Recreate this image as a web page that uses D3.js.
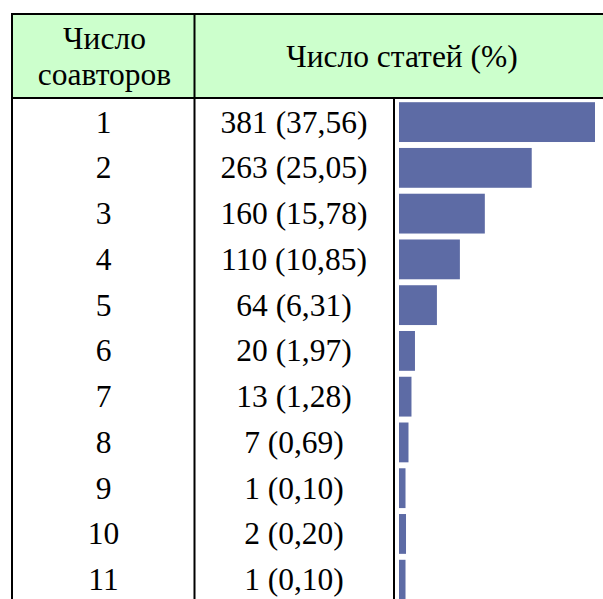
<!DOCTYPE html>
<html>
<head>
<meta charset="utf-8">
<script src="https://cdn.jsdelivr.net/npm/d3@7"></script>
<style>
  body { margin: 0; background: #fff; }
  svg { display: block; }
  svg text { font-family: "Liberation Serif", "Times New Roman", Times, serif; font-size: 31.5px; fill: #000; }
</style>
</head>
<body>
<div id="chart"></div>
<script>
var width = 603;
var height = 599;

// data
var coauthors = ["1", "2", "3", "4", "5", "6", "7", "8", "9", "10", "11"];
var articleCounts = [381, 263, 160, 110, 64, 20, 13, 7, 1, 2, 1];
var articlePercents = [37.56, 25.05, 15.78, 10.85, 6.31, 1.97, 1.28, 0.69, 0.10, 0.20, 0.10];
var headerCol1 = ["Число", "соавторов"];
var headerCol2 = "Число статей (%)";

var rows = coauthors.map(function(c, i) {
  return {n: c, count: articleCounts[i], pct: articlePercents[i]};
});

// layout (tableTop, not "top": that one is window.top)
var tableLeft = 11, tableTop = 13, headBottom = 97;
var col1 = 194, col2 = 394;
var rowH = 45.8;
var barStart = col2 + 5;
var fmtPct = function(v) { return d3.format(".2f")(v).replace(".", ","); };

var svg = d3.select("#chart").append("svg")
  .attr("width", width)
  .attr("height", height);

var y = d3.scaleBand()
  .domain(coauthors)
  .range([headBottom + 2, headBottom + 2 + rowH * coauthors.length])
  .paddingInner(0.13)
  .paddingOuter(0.07);

// bars keep a small minimum width, like the original
var x = d3.scaleLinear()
  .domain([0, d3.max(articlePercents)])
  .range([barStart + 6, 595]);

// header background
svg.append("rect")
  .attr("x", tableLeft).attr("y", tableTop)
  .attr("width", width - tableLeft).attr("height", headBottom - tableTop)
  .attr("fill", "#ccffcc");

// bars
svg.append("g")
  .selectAll("rect")
  .data(rows)
  .join("rect")
  .attr("x", barStart)
  .attr("y", d => y(d.n))
  .attr("width", d => x(d.pct) - barStart)
  .attr("height", y.bandwidth())
  .attr("fill", "#5d6ba5");

// text
var rowCenter = d => y(d.n) + y.bandwidth() / 2;

svg.append("g")
  .selectAll("text")
  .data(rows)
  .join("text")
  .attr("x", (tableLeft + col1) / 2 + 1)
  .attr("y", rowCenter)
  .attr("dy", "0.33em")
  .attr("text-anchor", "middle")
  .text(d => d.n);

svg.append("g")
  .selectAll("text")
  .data(rows)
  .join("text")
  .attr("x", (col1 + col2) / 2)
  .attr("y", rowCenter)
  .attr("dy", "0.33em")
  .attr("text-anchor", "middle")
  .text(d => d.count + " (" + fmtPct(d.pct) + ")");

// header text
svg.append("g")
  .selectAll("text")
  .data(headerCol1)
  .join("text")
  .attr("x", (tableLeft + col1) / 2 + 2)
  .attr("y", (d, i) => 49 + i * 36)
  .attr("text-anchor", "middle")
  .text(d => d);

svg.append("text")
  .attr("x", 402)
  .attr("y", 67)
  .attr("text-anchor", "middle")
  .text(headerCol2);

// grid lines
var lines = svg.append("g").attr("stroke", "#000").attr("stroke-width", 2);
lines.append("line").attr("x1", tableLeft).attr("x2", width).attr("y1", tableTop + 1).attr("y2", tableTop + 1);
lines.append("line").attr("x1", tableLeft).attr("x2", width).attr("y1", headBottom + 1).attr("y2", headBottom + 1);
lines.append("line").attr("x1", tableLeft + 1).attr("x2", tableLeft + 1).attr("y1", tableTop).attr("y2", height);
lines.append("line").attr("x1", col1 + 0.5).attr("x2", col1 + 0.5).attr("y1", tableTop).attr("y2", height);
lines.append("line").attr("x1", col2).attr("x2", col2).attr("y1", headBottom).attr("y2", height);
</script>
</body>
</html>
